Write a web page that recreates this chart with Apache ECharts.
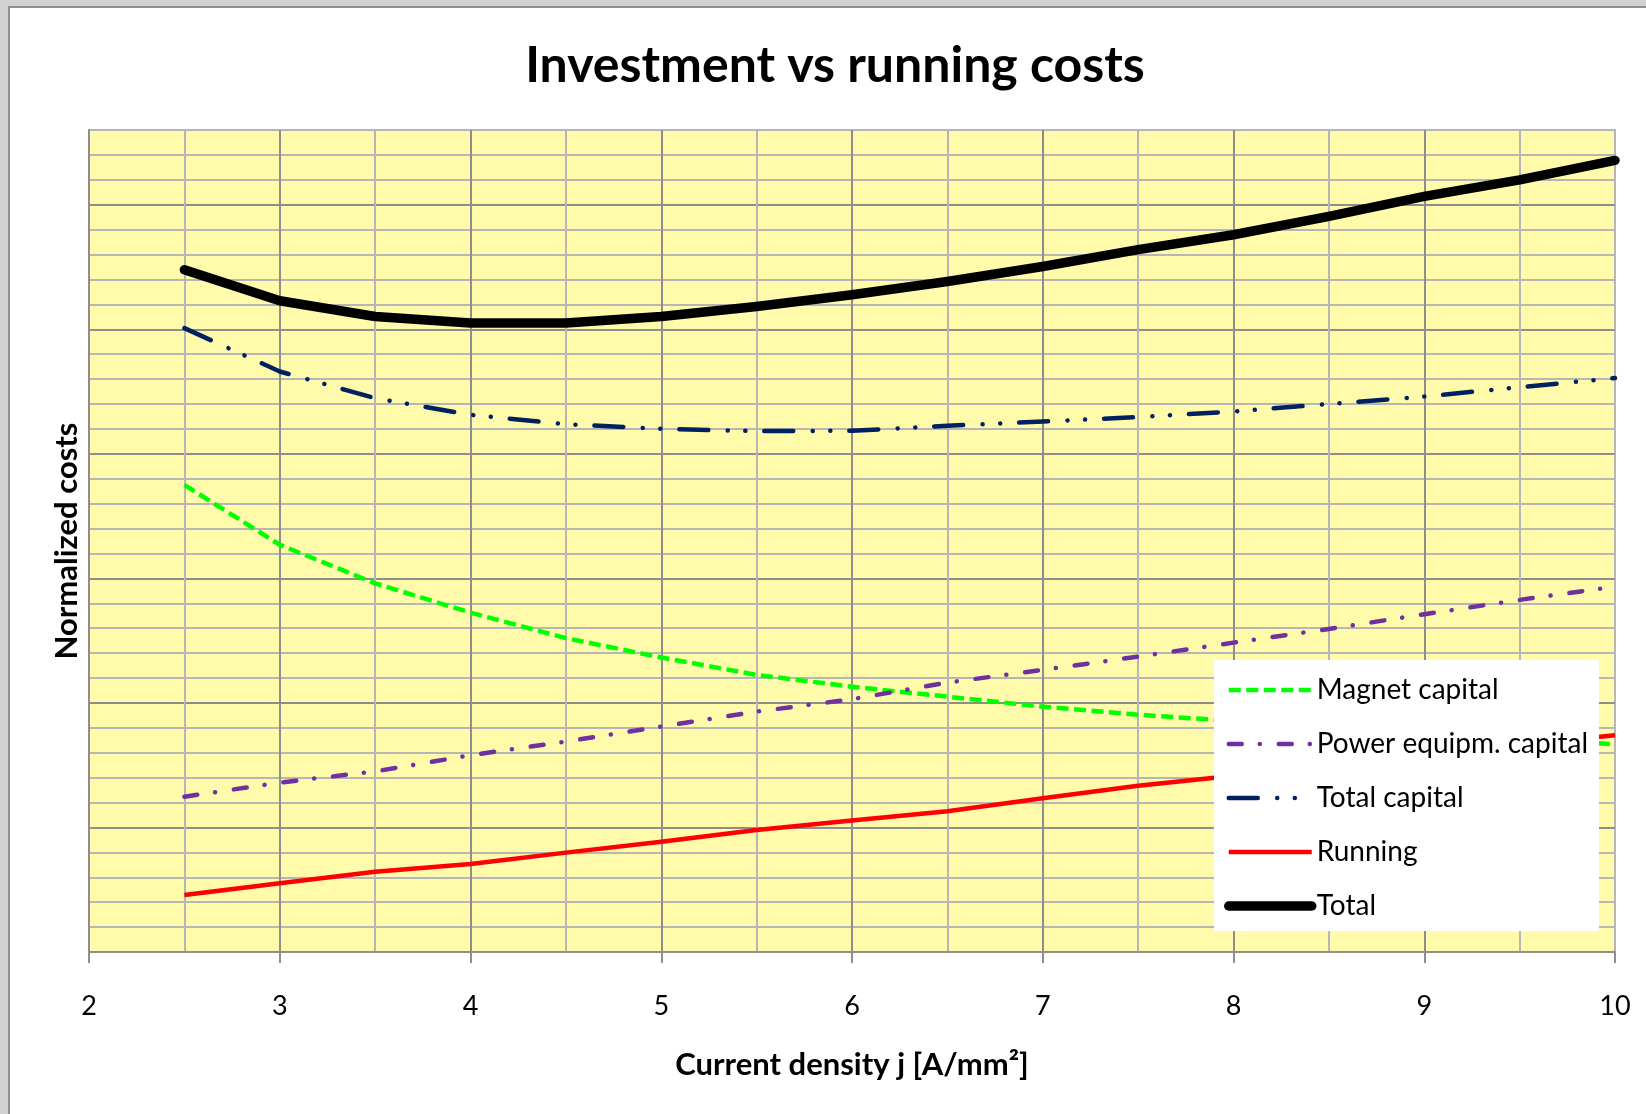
<!DOCTYPE html>
<html>
<head>
<meta charset="utf-8">
<title>Investment vs running costs</title>
<script src="https://cdn.jsdelivr.net/npm/echarts@6/dist/echarts.min.js"></script>
<style>
  html, body { margin: 0; padding: 0; background: #d2d2d2; }
  #chart { width: 1646px; height: 1114px; }
</style>
</head>
<body>
<div id="chart"></div>
<script>
// current density j [A/mm2]
var jValues = [2.5, 3, 3.5, 4, 4.5, 5, 5.5, 6, 6.5, 7, 7.5, 8, 8.5, 9, 9.5, 10];

// normalized costs (no scale printed)
var magnetCapital = [3.75, 3.27, 2.96, 2.725, 2.52, 2.365, 2.225, 2.13, 2.05, 1.97, 1.905, 1.855, 1.805, 1.75, 1.708, 1.668];
var powerCapital = [1.247, 1.36, 1.45, 1.58, 1.69, 1.81, 1.93, 2.03, 2.163, 2.265, 2.372, 2.484, 2.594, 2.712, 2.827, 2.934];
var totalCapital = [5.009, 4.661, 4.447, 4.313, 4.238, 4.201, 4.182, 4.185, 4.225, 4.259, 4.295, 4.34, 4.40, 4.46, 4.535, 4.608];
var running = [0.458, 0.552, 0.645, 0.707, 0.798, 0.886, 0.98, 1.055, 1.13, 1.235, 1.335, 1.415, 1.50, 1.585, 1.665, 1.74];
var total = [5.478, 5.229, 5.103, 5.05, 5.05, 5.103, 5.183, 5.277, 5.384, 5.504, 5.639, 5.759, 5.906, 6.067, 6.20, 6.356];

var seriesNames = ['Magnet capital', 'Power equipm. capital', 'Total capital', 'Running', 'Total'];

var FONT = 'Lato';
var MAJOR_GRID = '#8e8e8e';
var MINOR_GRID = '#b6b6b6';

function pairs(values) {
  return jValues.map(function (x, i) {
    return [x, values[i]];
  });
}

function lineSeries(name, values, color, width, type, cap) {
  return {
    name: name,
    type: 'line',
    data: pairs(values),
    symbol: 'none',
    smooth: false,
    color: color,
    lineStyle: {
      color: color,
      width: width,
      type: type,
      cap: cap || 'butt',
      join: 'round'
    }
  };
}

var chart = echarts.init(document.getElementById('chart'));

chart.setOption({
  backgroundColor: '#d2d2d2',
  animation: false,
  // white chart area with its frame
  graphic: [{
    type: 'rect',
    z: -10,
    silent: true,
    shape: { x: 9, y: 7, width: 1700, height: 1200 },
    style: { fill: '#ffffff', stroke: '#8f8f8f', lineWidth: 2 }
  }],
  title: {
    text: 'Investment vs running costs',
    left: 835,
    top: 41,
    padding: 0,
    textAlign: 'center',
    textStyle: {
      fontFamily: FONT,
      fontWeight: 'bold',
      fontSize: 50,
      color: '#000'
    }
  },
  grid: {
    left: 89,
    top: 130,
    right: 31,
    bottom: 162,
    show: true,
    backgroundColor: '#fffbaa',
    borderColor: MINOR_GRID,
    borderWidth: 2
  },
  legend: {
    orient: 'vertical',
    left: 1214,
    top: 660,
    padding: [15, 11, 10, 10],
    backgroundColor: '#ffffff',
    itemWidth: 83,
    itemHeight: 14,
    itemGap: 24,
    data: seriesNames,
    textStyle: {
      fontFamily: FONT,
      fontSize: 28,
      lineHeight: 30,
      color: '#000'
    },
    lineStyle: { width: 'inherit' },
    itemStyle: { opacity: 0 }
  },
  xAxis: {
    type: 'value',
    min: 2,
    max: 10,
    interval: 1,
    name: 'Current density j [A/mm\u00b2]',
    nameLocation: 'middle',
    nameGap: 97,
    nameTextStyle: {
      fontFamily: FONT,
      fontWeight: 'bold',
      fontSize: 31,
      color: '#000'
    },
    axisLine: { lineStyle: { color: MAJOR_GRID, width: 2 } },
    axisTick: { show: true, length: 11, lineStyle: { color: MAJOR_GRID, width: 2 } },
    axisLabel: {
      margin: 41,
      fontFamily: FONT,
      fontSize: 27,
      color: '#000'
    },
    splitLine: { show: true, showMaxLine: false, lineStyle: { color: MAJOR_GRID, width: 2 } },
    minorTick: { show: false, splitNumber: 2 },
    minorSplitLine: { show: true, lineStyle: { color: MINOR_GRID, width: 2 } }
  },
  yAxis: [{
    type: 'value',
    position: 'left',
    min: 0,
    max: 6.6,
    interval: 0.2,
    name: 'Normalized costs',
    nameLocation: 'middle',
    nameGap: 7,
    nameTextStyle: {
      fontFamily: FONT,
      fontWeight: 'bold',
      fontSize: 31,
      color: '#000'
    },
    axisLine: { show: true, lineStyle: { color: MAJOR_GRID, width: 2 } },
    axisTick: { show: false },
    axisLabel: { show: false },
    splitLine: { show: true, lineStyle: { color: MINOR_GRID, width: 2 } }
  }, {
    // major horizontal grid lines only
    type: 'value',
    position: 'left',
    min: 0,
    max: 6.6,
    interval: 1,
    axisLine: { show: false },
    axisTick: { show: false },
    axisLabel: { show: false },
    splitLine: { show: true, showMinLine: false, showMaxLine: false, lineStyle: { color: MAJOR_GRID, width: 2 } }
  }],
  series: [
    lineSeries(seriesNames[0], magnetCapital, '#00ff00', 4.5, [12, 5.5]),
    lineSeries(seriesNames[1], powerCapital, '#7030a0', 4.5, [13, 18, 0.1, 18.9], 'round'),
    lineSeries(seriesNames[2], totalCapital, '#002060', 4.5, [29, 19.4, 0.1, 17.5, 0.1, 18.9], 'round'),
    lineSeries(seriesNames[3], running, '#ff0000', 4.5, 'solid'),
    lineSeries(seriesNames[4], total, '#000000', 9.5, 'solid', 'round')
  ]
});
</script>
</body>
</html>
